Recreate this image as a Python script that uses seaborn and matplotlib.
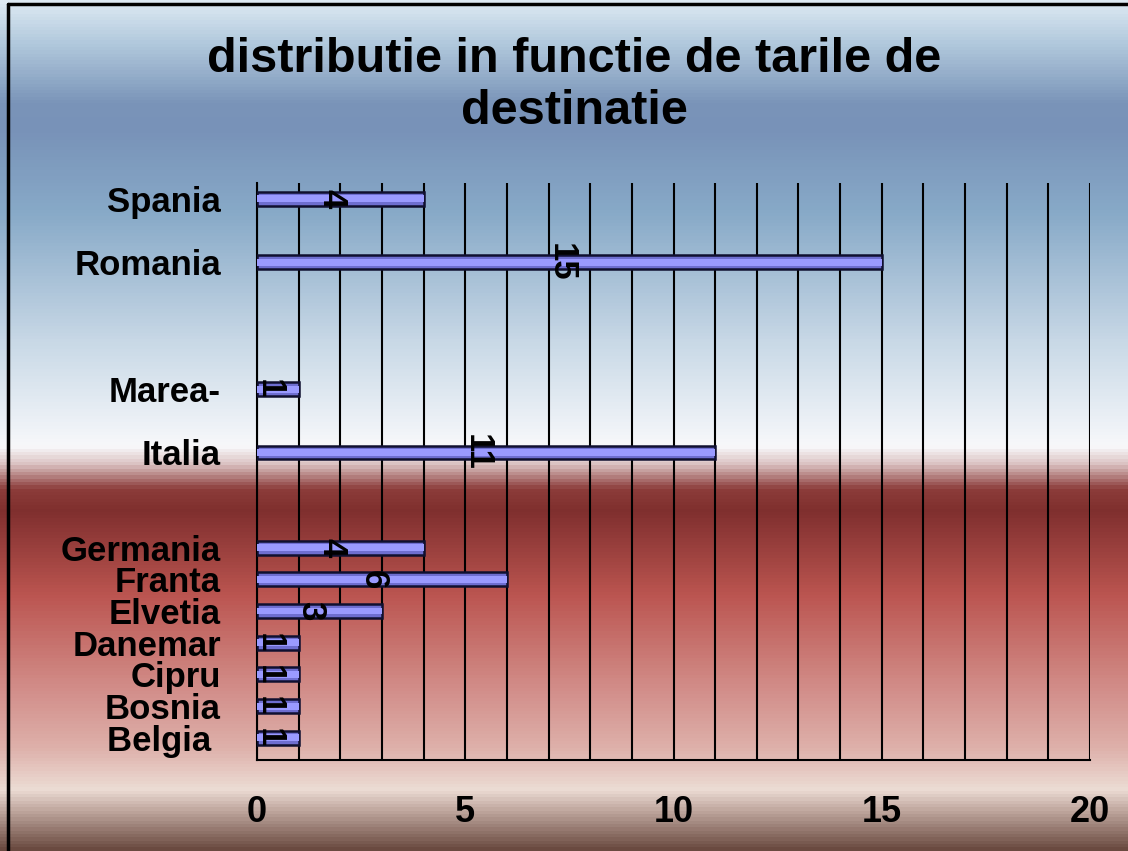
import numpy as np
import pandas as pd
import matplotlib
matplotlib.use("Agg")
import matplotlib.pyplot as plt
from matplotlib.colors import LinearSegmentedColormap
from matplotlib.lines import Line2D
import seaborn as sns

# data
countries = ["Belgia ", "Bosnia", "Cipru", "Danemar", "Elvetia", "Franta",
             "Germania", "Italia", "Marea-", "Romania", "Spania"]
values = [1, 1, 1, 1, 3, 6, 4, 11, 1, 15, 4]
# row slots on the category axis (gaps are unlabeled rows)
slots = [0, 1, 2, 3, 4, 5, 6, 9, 11, 15, 17]
xticks = [0, 5, 10, 15, 20]
title = "distributie in functie de tarile de\ndestinatie"

df = pd.DataFrame({"tara": countries, "valoare": values, "slot": slots})

sns.set_style("white")
plt.rcParams["font.family"] = ["Liberation Sans", "DejaVu Sans"]
plt.rcParams["text.color"] = "black"
plt.rcParams["xtick.color"] = "black"
plt.rcParams["ytick.color"] = "black"

fig = plt.figure(figsize=(11.28, 8.51), dpi=100)

# background gradient (blue sky on top, red at the bottom)
bg = fig.add_axes([0, 0, 1, 1], zorder=-10)
stops = [
    (0.00, "#dde9f3"), (0.05, "#b0c8dc"), (0.12, "#7a94b8"), (0.15, "#7892b8"),
    (0.25, "#88aac8"), (0.40, "#c8d8e6"), (0.50, "#eef2f7"), (0.525, "#f8f8fa"),
    (0.545, "#dcc4c4"), (0.575, "#8c3c3a"), (0.60, "#7f2f2e"), (0.70, "#bb5550"),
    (0.80, "#d08884"), (0.88, "#deb0aa"), (0.93, "#ecdcd4"), (0.95, "#c8b0a8"),
    (1.00, "#6a4a40"),
]
cmap = LinearSegmentedColormap.from_list("bg", stops)
grad = np.linspace(0, 1, 851).reshape(-1, 1)
bg.imshow(grad, cmap=cmap, aspect="auto", extent=[0, 1, 0, 1], origin="upper")
bg.set_axis_off()

ax = fig.add_axes([257 / 1128, 1 - 760 / 851, 833 / 1128, 577 / 851])
ax.set_facecolor("none")

sns.barplot(data=df, x="valoare", y="slot", orient="h", native_scale=True,
            width=0.44, color="#6e6ed0", saturation=1,
            edgecolor="#101030", linewidth=1.8, ax=ax, zorder=3)
# lighter center band to mimic the shaded bars
sns.barplot(data=df, x="valoare", y="slot", orient="h", native_scale=True,
            width=0.22, color="#9a9aff", saturation=1,
            linewidth=0, ax=ax, zorder=4)

for v, s in zip(values, slots):
    ax.text(v / 2 - 0.2, s, str(v), rotation=270, ha="center", va="center",
            fontsize=25, fontweight="bold", color="black", zorder=5)

ax.set_xlim(0, 20)
ax.set_ylim(-0.7, 17.5)
ax.set_xticks(xticks)
ax.set_xticks(range(21), minor=True)
ax.set_xticklabels([str(t) for t in xticks], fontsize=26, fontweight="bold")
ax.set_yticks(slots)
ax.set_yticklabels(countries, fontsize=25, fontweight="bold")
ax.tick_params(axis="y", length=0, pad=26)
ax.tick_params(axis="x", which="major", length=12, width=1.5, direction="out",
               pad=13, color="black")
ax.tick_params(axis="x", which="minor", length=0)
ax.grid(True, axis="x", which="both", color="black", linewidth=1.5, zorder=1)
ax.set_axisbelow(True)
ax.set_xlabel("")
ax.set_ylabel("")
for side in ["top", "right"]:
    ax.spines[side].set_visible(False)
for side in ["left", "bottom"]:
    ax.spines[side].set_color("black")
    ax.spines[side].set_linewidth(1.5)

fig.text(0.509, 0.899, title, ha="center", va="center", fontsize=35,
         fontweight="bold", linespacing=1.2)

# outer frame (left and top edges)
fig.add_artist(Line2D([8 / 1128, 8 / 1128], [0, 1 - 4 / 851], color="black", lw=2.5))
fig.add_artist(Line2D([8 / 1128, 1], [1 - 4 / 851, 1 - 4 / 851], color="black", lw=2.5))

fig.savefig("out.png", dpi=100)
